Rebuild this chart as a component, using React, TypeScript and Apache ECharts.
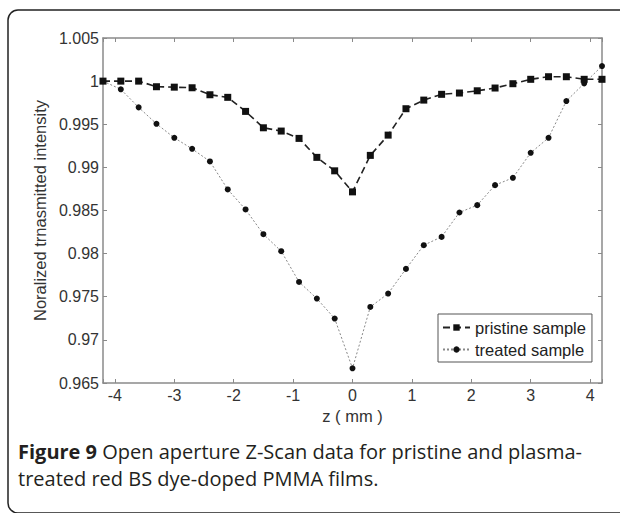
import React, { useEffect, useRef } from "react";
import * as echarts from "echarts";

const zValues = [-4.2, -3.9, -3.6, -3.3, -3.0, -2.7, -2.4, -2.1, -1.8, -1.5, -1.2, -0.9, -0.6, -0.3, 0, 0.3, 0.6, 0.9, 1.2, 1.5, 1.8, 2.1, 2.4, 2.7, 3.0, 3.3, 3.6, 3.9, 4.2];
const pristine = [1.0, 1.0, 1.0, 0.99935, 0.9993, 0.99923, 0.99842, 0.99812, 0.99649, 0.99459, 0.99421, 0.99336, 0.99116, 0.9896, 0.98716, 0.99139, 0.99374, 0.9968, 0.9978, 0.99847, 0.99862, 0.99888, 0.9992, 0.9997, 1.00021, 1.00051, 1.00051, 1.00021, 1.00021];
const treated = [1.0, 0.99905, 0.99696, 0.99505, 0.99343, 0.99215, 0.99069, 0.98744, 0.98512, 0.98225, 0.98028, 0.97672, 0.97479, 0.97247, 0.9667, 0.97382, 0.97537, 0.97823, 0.98098, 0.98194, 0.98477, 0.98562, 0.98794, 0.98879, 0.99169, 0.99343, 0.99769, 0.99974, 1.00175];
const seriesNames = ["pristine sample", "treated sample"];
const yAxisName = "Noralized trnasmitted intensity";
const xAxisName = "z ( mm )";
const captionBold = "Figure 9";
const captionLine1 = " Open aperture Z-Scan data for pristine and plasma-";
const captionLine2 = "treated red BS dye-doped PMMA films.";

export default function App() {
  const ref = useRef<HTMLDivElement>(null);
  useEffect(() => {
    if (!ref.current) return;
    const chart = echarts.init(ref.current, undefined, { renderer: "svg" });
    const axisColor = "#8a8a8a";
    const labelFont = { color: "#333", fontSize: 16, fontFamily: "Liberation Sans, Arial, sans-serif" };
    const mk = (arr: number[]) => zValues.map((z, i) => [z, arr[i]]);
    chart.setOption({
      animation: false,
      backgroundColor: "#ffffff",
      grid: { left: 103, top: 38, right: 18, bottom: 130 },
      legend: {
        orient: "vertical",
        left: 438,
        top: 314,
        itemWidth: 27,
        itemHeight: 8,
        itemGap: 5,
        padding: [5, 6, 4, 4],
        borderColor: "#555",
        borderWidth: 1,
        borderRadius: 0,
        backgroundColor: "#fff",
        textStyle: { color: "#222", fontSize: 16.5, fontFamily: "Liberation Sans, Arial, sans-serif" },
        data: seriesNames,
      },
      xAxis: [
        {
          type: "value",
          min: -4.2,
          max: 4.2,
          splitNumber: 8,
          name: xAxisName,
          nameLocation: "middle",
          nameGap: 12,
          nameTextStyle: { ...labelFont, fontSize: 16.5 },
          axisLine: { onZero: false, lineStyle: { color: axisColor, width: 1.5 } },
          axisTick: { inside: true, length: 4, lineStyle: { color: axisColor } },
          axisLabel: {
            ...labelFont,
            margin: 4,
            formatter: (v: number) => (Math.abs(v - Math.round(v)) < 1e-6 ? String(Math.round(v)) : ""),
          },
          splitLine: { show: false },
        },
        {
          type: "value",
          position: "top",
          min: -4.2,
          max: 4.2,
          splitNumber: 8,
          axisLine: { onZero: false, lineStyle: { color: axisColor, width: 1.5 } },
          axisTick: { inside: true, length: 4, lineStyle: { color: axisColor } },
          axisLabel: { show: false },
          splitLine: { show: false },
        },
      ],
      yAxis: [
        {
          type: "value",
          min: 0.965,
          max: 1.005,
          interval: 0.005,
          name: yAxisName,
          nameLocation: "middle",
          nameGap: 52,
          nameTextStyle: { ...labelFont, fontSize: 16.5 },
          axisLine: { show: true, onZero: false, lineStyle: { color: axisColor, width: 1.5 } },
          axisTick: { show: true, inside: true, length: 4, lineStyle: { color: axisColor } },
          axisLabel: { ...labelFont, margin: 4, formatter: (v: number) => String(parseFloat(v.toFixed(3))) },
          splitLine: { show: false },
        },
        {
          type: "value",
          position: "right",
          min: 0.965,
          max: 1.005,
          interval: 0.005,
          axisLine: { show: true, onZero: false, lineStyle: { color: axisColor, width: 1.5 } },
          axisTick: { show: true, inside: true, length: 4, lineStyle: { color: axisColor } },
          axisLabel: { show: false },
          splitLine: { show: false },
        },
      ],
      series: [
        {
          name: seriesNames[0],
          type: "line",
          data: mk(pristine),
          symbol: "rect",
          symbolSize: 7,
          itemStyle: { color: "#111" },
          lineStyle: { color: "#222", width: 1.6, type: [7, 4] },
          z: 3,
        },
        {
          name: seriesNames[1],
          type: "line",
          data: mk(treated),
          symbol: "circle",
          symbolSize: 6,
          itemStyle: { color: "#111" },
          lineStyle: { color: "#888", width: 1, type: [2, 2] },
          z: 2,
        },
      ],
      graphic: [
        {
          type: "rect",
          shape: { x: 8, y: 10, width: 700, height: 503, r: 10 },
          style: { fill: "none", stroke: "#222", lineWidth: 1.5 },
          silent: true,
        },
        {
          type: "text",
          left: 18,
          top: 441,
          style: {
            text: "{b|" + captionBold + "}{r|" + captionLine1 + "}\n{r|" + captionLine2 + "}",
            rich: {
              b: { fontFamily: "Open Sans, sans-serif", fontWeight: "bold", fontSize: 20, fill: "#231f20", lineHeight: 27 },
              r: { fontFamily: "Open Sans, sans-serif", fontSize: 20, fill: "#231f20", lineHeight: 27 },
            },
          },
        },
      ],
    });
    return () => chart.dispose();
  }, []);
  return <div ref={ref} style={{ position: "absolute", left: 0, top: 0, width: 620, height: 513 }} />;
}
